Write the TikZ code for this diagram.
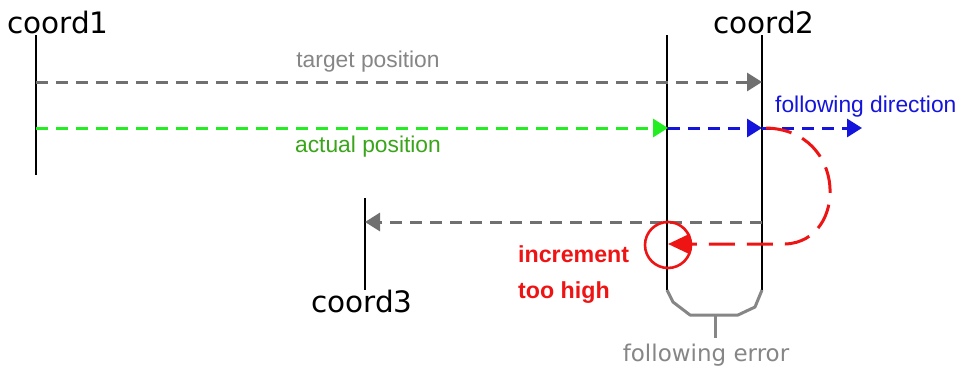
\documentclass[tikz,border=0pt]{standalone}
\usepackage{fontspec}
\setmainfont{Liberation Sans}
\newfontfamily\labelfont{DejaVu Sans}
\usetikzlibrary{arrows.meta}
\definecolor{tgtgray}{HTML}{707070}
\definecolor{txtgray}{HTML}{868686}
\definecolor{actgreen}{HTML}{22EE22}
\definecolor{actgreentxt}{HTML}{3AA51A}
\definecolor{dirblue}{HTML}{1414DC}
\definecolor{errred}{HTML}{EE1414}
\tikzset{
  axis/.style={draw=black, line width=1.8pt},
  movearrow/.style={line width=3pt, dash pattern=on 12pt off 8pt,
    -{Triangle[length=15pt,width=18pt]}},
  coordlabel/.style={inner sep=0pt, anchor=base, font=\labelfont\fontsize{29.5}{31}\selectfont},
  smalllabel/.style={inner sep=0pt, anchor=base, font=\fontsize{22.8}{25}\selectfont},
  warnlabel/.style={inner sep=0pt, anchor=base west, text=errred, font=\bfseries\fontsize{23.2}{25}\selectfont},
}
\begin{document}
\begin{tikzpicture}[x=1pt, y=-1pt]
\useasboundingbox (0,0) rectangle (960,367);
\fill[white] (0,0) rectangle (960,367);

% reference lines and their names
\coordinate (c1top) at (36,35);
\coordinate (c1bot) at (36,175);
\coordinate (c2ltop) at (667,35);
\coordinate (c2lbot) at (667,290);
\coordinate (c2rtop) at (762,35);
\coordinate (c2rbot) at (762,290);
\coordinate (c3top) at (365,198);
\coordinate (c3bot) at (365,290);
\draw[axis] (c1top) -- (c1bot);
\draw[axis] (c2ltop) -- (c2lbot);
\draw[axis] (c2rtop) -- (c2rbot);
\draw[axis] (c3top) -- (c3bot);
\node[coordlabel] (lc1) at (58,33) {coord1};
\node[coordlabel] (lc2) at (764,33) {coord2};
\node[coordlabel] (lc3) at (362,312) {coord3};

% target position
\coordinate (tgtA) at (36,82);
\coordinate (tgtB) at (762,82);
\draw[movearrow, tgtgray] (tgtA) -- (tgtB);
\node[smalllabel, text=txtgray] (ltgt) at (368,67) {target position};

% actual position
\coordinate (actA) at (36,128);
\coordinate (actB) at (668,128);
\coordinate (actC) at (762,128);
\coordinate (actD) at (862,128);
\draw[movearrow, actgreen] (actA) -- (actB);
\node[smalllabel, text=actgreentxt] (lact) at (368,152) {actual position};
\draw[movearrow, dirblue] (actB) -- (actC);
\draw[movearrow, dirblue] (actC) -- (actD);
\node[smalllabel, text=dirblue, anchor=base west] (ldir) at (775,112) {following direction};

% return movement to coord3
\coordinate (retA) at (762,222);
\coordinate (retB) at (365,222);
\draw[movearrow, tgtgray] (retA) -- (retB);

% overshoot loop with too large increment
\coordinate (loopA) at (766,128);
\coordinate (loopB) at (785,244);
\coordinate (loopC) at (668,244);
\draw[errred, line width=3pt, dash pattern=on 26pt off 12pt,
  -{Triangle[length=22pt,width=20pt]}]
  (loopA) .. controls (848,130) and (848,242) .. (loopB) -- (loopC);
\node[draw=errred, line width=2.6pt, circle, minimum size=46pt, inner sep=0pt] (ring) at (668,245) {};
\node[warnlabel] (linc) at (518,262) {increment};
\node[warnlabel] (lhigh) at (518,298) {too high};

% following error bracket
\coordinate (brA) at (673,302);
\coordinate (brB) at (690,315);
\coordinate (brC) at (738,315);
\coordinate (brD) at (755,307);
\coordinate (brM) at (715,315);
\coordinate (brS) at (715,338);
\draw[txtgray, line width=3pt, line join=round] (c2lbot) -- (brA) -- (brB) -- (brC) -- (brD) -- (c2rbot);
\draw[txtgray, line width=3pt] (brM) -- (brS);
\node[coordlabel, text=txtgray, font=\labelfont\fontsize{23}{25}\selectfont] (lerr) at (706,361) {following error};
\end{tikzpicture}
\end{document}
